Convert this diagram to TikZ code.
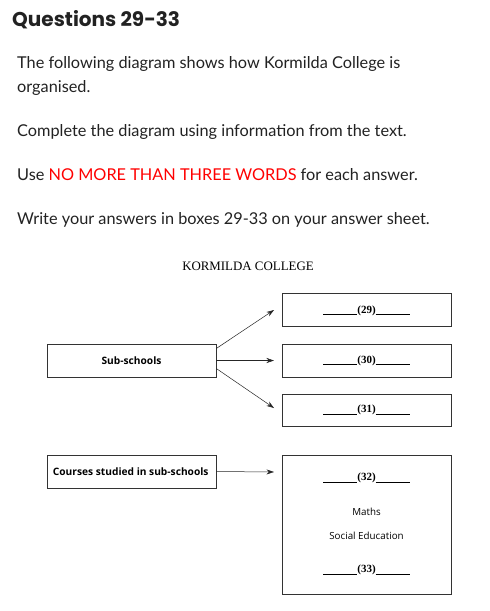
\documentclass[tikz,border=0pt]{standalone}
\usepackage{fontspec}
\setmainfont{Lato}
\newfontfamily\titlefont{Poppins}
\newfontfamily\boxfont{Open Sans}
\newfontfamily\serffont{Liberation Serif}
\usetikzlibrary{arrows.meta}
\definecolor{txt}{HTML}{222222}
\definecolor{warn}{HTML}{FF0000}
\tikzset{
  para/.style={anchor=base west, inner sep=0pt, text=txt, font=\fontsize{16.3}{19}\selectfont},
  box/.style={draw=black!80, line width=0.6pt, inner sep=0pt},
  lbl/.style={inner sep=0pt, font=\boxfont\bfseries\fontsize{10.2}{12}\selectfont},
  plain/.style={inner sep=0pt, font=\boxfont\fontsize{9.8}{12}\selectfont},
  blank/.style={inner sep=0pt, font=\serffont\bfseries\fontsize{11}{12}\selectfont},
  arr/.style={-{Stealth[length=7.5pt,width=5pt]}, line width=0.5pt, black!85}
}
\newcommand{\blankline}[1]{\rule[-1.5pt]{34pt}{0.5pt}(#1)\rule[-1.5pt]{34pt}{0.5pt}}
\begin{document}
\begin{tikzpicture}[x=1pt,y=-1pt]
\useasboundingbox[fill=white] (0,0) rectangle (490,611);
\node[anchor=base west, inner sep=0pt, text=txt, font=\titlefont\bfseries\fontsize{20}{24}\selectfont] (title) at (12,26) {Questions 29-33};
\node[para] (p1) at (17,68) {The following diagram shows how Kormilda College is};
\node[para] (p2) at (17,92) {organised.};
\node[para] (p3) at (17,136) {Complete the diagram using information from the text.};
\node[para] (p4) at (17,180) {Use \textcolor{warn}{NO MORE THAN THREE WORDS} for each answer.};
\node[para] (p5) at (17,224) {Write your answers in boxes 29-33 on your answer sheet.};

\node[inner sep=0pt, font=\serffont\fontsize{12.9}{15}\selectfont] (head) at (248,266) {KORMILDA COLLEGE};

% left boxes
\node[box, minimum width=169pt, minimum height=33pt] (sub) at (131.5,360.5) {};
\node[lbl] at (sub.center) {Sub-schools};
\node[box, minimum width=169pt, minimum height=33pt] (courses) at (131.5,471.5) {};
\node[lbl, anchor=west] at ([xshift=6pt]courses.west) {Courses studied in sub-schools};

% right boxes
\node[box, minimum width=169pt, minimum height=33pt] (b29) at (366.5,309.5) {};
\node[blank] at ([yshift=-1pt]b29.center) {\blankline{29}};
\node[box, minimum width=169pt, minimum height=33pt] (b30) at (366.5,360.5) {};
\node[blank] at (b30.center) {\blankline{30}};
\node[box, minimum width=169pt, minimum height=32pt] (b31) at (366.5,410) {};
\node[blank] at (b31.center) {\blankline{31}};
\node[box, minimum width=169pt, minimum height=139pt] (b32) at (366.5,524.5) {};
\node[blank] (l32) at (366.5,478) {\blankline{32}};
\node[plain] (maths) at (366.5,512) {Maths};
\node[plain] (soc) at (366.5,536) {Social Education};
\node[blank] (l33) at (366.5,570) {\blankline{33}};

% connectors
\coordinate (e29) at (274,310);
\coordinate (e30) at (274,360.5);
\coordinate (e31) at (274,408);
\coordinate (e32) at (274,472);
\draw[arr] ([yshift=12pt]sub.east) -- (e29);
\draw[arr] (sub.east) -- (e30);
\draw[arr] ([yshift=-8pt]sub.east) -- (e31);
\draw[arr] (courses.east) -- (e32);
\end{tikzpicture}
\end{document}
